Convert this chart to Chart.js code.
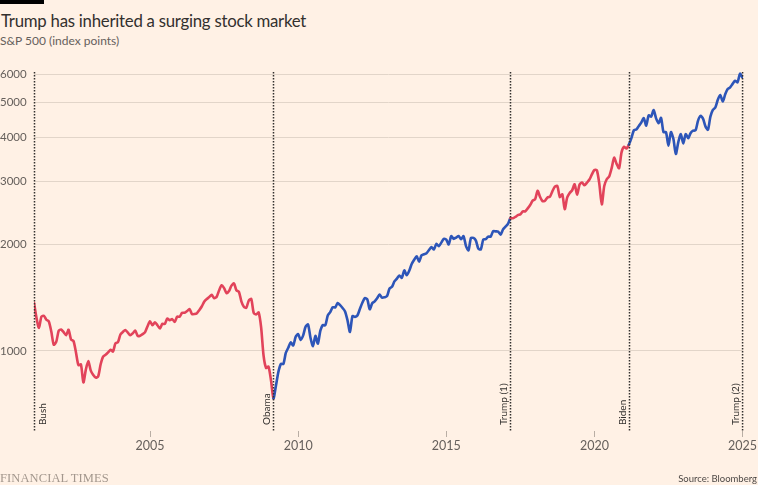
<!DOCTYPE html>
<html>
<head>
<meta charset="utf-8">
<script src="https://cdn.jsdelivr.net/npm/chart.js@4.4.1/dist/chart.umd.min.js"></script>
<style>
  html, body { margin: 0; padding: 0; background: #fff1e5; }
  #wrap { position: relative; width: 758px; height: 485px; background: #fff1e5; overflow: hidden; }
  #bar { position: absolute; left: 0; top: 0; width: 44px; height: 4px; background: #000; }
  #title { position: absolute; left: 1px; top: 10px; font-family: Lato, "Open Sans", sans-serif; font-size: 16.8px; letter-spacing: -0.25px; color: #33302e; white-space: nowrap; }
  #subtitle { position: absolute; left: 0px; top: 33px; font-family: Lato, "Open Sans", sans-serif; font-size: 12px; color: #66605c; white-space: nowrap; }
  #ft { position: absolute; left: 0px; top: 471px; font-family: "Liberation Serif", serif; font-size: 12.5px; color: #a3978d; white-space: nowrap; letter-spacing: 0.1px; }
  #source { position: absolute; right: 1px; top: 473px; font-family: Lato, "Open Sans", sans-serif; font-size: 9.5px; color: #4d4845; white-space: nowrap; }
  canvas { position: absolute; left: 0; top: 0; }
</style>
</head>
<body>
<div id="wrap">
  <div id="bar"></div>
  <div id="title">Trump has inherited a surging stock market</div>
  <div id="subtitle">S&amp;P 500 (index points)</div>
  <canvas id="c" width="758" height="485"></canvas>
  <div id="ft">FINANCIAL TIMES</div>
  <div id="source">Source: Bloomberg</div>
</div>
<script>
// Monthly S&P 500 closes, Jan 2001 .. Dec 2024 (one value per month-end)
const startYear = 2001;
const closes = [
  // 2001
  1366, 1240, 1160, 1249, 1256, 1224, 1211, 1134, 1041, 1060, 1139, 1148,
  // 2002
  1130, 1107, 1147, 1077, 1067, 990, 912, 916, 815, 886, 936, 880,
  // 2003
  856, 841, 848, 917, 964, 975, 990, 1008, 996, 1051, 1058, 1112,
  // 2004
  1131, 1145, 1126, 1107, 1121, 1141, 1102, 1104, 1115, 1130, 1174, 1212,
  // 2005
  1181, 1204, 1181, 1157, 1192, 1191, 1234, 1220, 1229, 1207, 1249, 1248,
  // 2006
  1280, 1281, 1295, 1311, 1270, 1270, 1277, 1304, 1336, 1378, 1401, 1418,
  // 2007
  1438, 1407, 1421, 1482, 1531, 1503, 1455, 1474, 1527, 1549, 1481, 1468,
  // 2008
  1379, 1331, 1323, 1386, 1400, 1280, 1267, 1283, 1166, 969, 896, 903,
  // 2009
  826, 735, 798, 873, 919, 919, 987, 1021, 1057, 1036, 1096, 1115,
  // 2010
  1074, 1104, 1169, 1187, 1089, 1031, 1102, 1049, 1141, 1183, 1181, 1258,
  // 2011
  1286, 1327, 1326, 1364, 1345, 1321, 1292, 1219, 1131, 1253, 1247, 1258,
  // 2012
  1312, 1366, 1408, 1398, 1310, 1362, 1379, 1407, 1441, 1412, 1416, 1426,
  // 2013
  1498, 1515, 1569, 1598, 1631, 1606, 1686, 1633, 1682, 1757, 1806, 1848,
  // 2014
  1783, 1859, 1872, 1884, 1924, 1960, 1931, 2003, 1972, 2018, 2068, 2059,
  // 2015
  1995, 2105, 2068, 2086, 2107, 2063, 2104, 1972, 1920, 2079, 2080, 2044,
  // 2016
  1940, 1932, 2060, 2065, 2097, 2099, 2174, 2171, 2168, 2126, 2199, 2239,
  // 2017
  2279, 2364, 2363, 2384, 2412, 2423, 2470, 2472, 2519, 2575, 2648, 2674,
  // 2018
  2824, 2714, 2641, 2648, 2705, 2718, 2816, 2902, 2914, 2712, 2760, 2507,
  // 2019
  2704, 2784, 2834, 2946, 2752, 2942, 2980, 2926, 2977, 3038, 3141, 3231,
  // 2020
  3226, 2954, 2585, 2912, 3044, 3100, 3271, 3500, 3363, 3270, 3622, 3756,
  // 2021
  3714, 3811, 3973, 4181, 4204, 4298, 4395, 4523, 4308, 4605, 4567, 4766,
  // 2022
  4516, 4374, 4530, 4132, 4132, 3785, 4130, 3955, 3586, 3872, 4080, 3840,
  // 2023
  4077, 3970, 4109, 4169, 4180, 4450, 4589, 4508, 4288, 4194, 4568, 4770,
  // 2024
  4846, 5096, 5254, 5036, 5278, 5460, 5522, 5648, 5762, 5705, 6032, 5882
];

// Presidential terms (start positions) and party colours
const termNames  = ['Bush', 'Obama', 'Trump (1)', 'Biden', 'Trump (2)'];
const termStarts = [2001.083, 2009.16, 2017.16, 2021.16, 2025.02];
const termColors = ['#e2435a', '#2d55b8', '#e2435a', '#2d55b8', '#e2435a'];

const yTickValues = [1000, 2000, 3000, 4000, 5000, 6000];
const xTickValues = [2005, 2010, 2015, 2020, 2025];

const points = closes.map((v, i) => ({ x: startYear + (i + 1) / 12, y: v }));

function colorAt(x) {
  let c = termColors[0];
  for (let i = 0; i < termStarts.length; i++) {
    if (x >= termStarts[i] - 1e-6) c = termColors[i];
  }
  return c;
}

const termLines = {
  id: 'termLines',
  afterDatasetsDraw(chart) {
    const { ctx, chartArea, scales } = chart;
    ctx.save();
    termStarts.forEach((t, i) => {
      let x = Math.round(scales.x.getPixelForValue(t)) + 0.5;
      x = Math.min(Math.max(x, chartArea.left + 0.5), chartArea.right - 0.5);
      ctx.strokeStyle = '#33302e';
      ctx.lineWidth = 1.5;
      ctx.setLineDash([1.5, 1.5]);
      ctx.beginPath();
      ctx.moveTo(x, chartArea.top);
      ctx.lineTo(x, chartArea.bottom);
      ctx.stroke();

      ctx.save();
      ctx.setLineDash([]);
      ctx.fillStyle = '#33302e';
      ctx.font = '10px Lato, "Open Sans", sans-serif';
      ctx.textAlign = 'left';
      if (i === 0) {
        ctx.translate(x + 3, chartArea.bottom - 6);
        ctx.rotate(-Math.PI / 2);
        ctx.textBaseline = 'top';
      } else {
        ctx.translate(x - 4, chartArea.bottom - 6);
        ctx.rotate(-Math.PI / 2);
        ctx.textBaseline = 'alphabetic';
      }
      ctx.fillText(termNames[i], 0, 0);
      ctx.restore();
    });
    ctx.restore();
  }
};

new Chart(document.getElementById('c'), {
  type: 'line',
  data: {
    datasets: [{
      data: points,
      borderWidth: 2.6,
      pointRadius: 0,
      tension: 0.25,
      borderCapStyle: 'round',
      borderJoinStyle: 'round',
      borderColor: termColors[0],
      segment: {
        borderColor: (c) => colorAt(c.p0.parsed.x)
      }
    }]
  },
  options: {
    responsive: false,
    animation: false,
    events: [],
    layout: { padding: { top: 72, left: 0, right: 13, bottom: 24 } },
    plugins: { legend: { display: false }, tooltip: { enabled: false } },
    scales: {
      x: {
        type: 'linear',
        min: 2001.083,
        max: 2025.02,
        afterFit: (s) => { s.height = 30; },
        afterBuildTicks: (s) => { s.ticks = xTickValues.map(v => ({ value: v })); },
        border: { display: false },
        grid: { drawOnChartArea: false, drawTicks: true, tickLength: 6, color: '#b9aea4', lineWidth: 1 },
        ticks: {
          autoSkip: false,
          maxRotation: 0,
          padding: 1,
          color: '#66605c',
          font: { family: 'Lato, "Open Sans", sans-serif', size: 12.5 },
          callback: (v) => String(v)
        }
      },
      y: {
        type: 'logarithmic',
        min: 595,
        max: 6100,
        afterFit: (s) => { s.width = 34; },
        afterBuildTicks: (s) => { s.ticks = yTickValues.map(v => ({ value: v })); },
        border: { display: false },
        grid: { drawTicks: false, color: '#e2d5c9', lineWidth: 1 },
        ticks: {
          crossAlign: 'far',
          padding: 0,
          color: '#66605c',
          font: { family: 'Lato, "Open Sans", sans-serif', size: 11.5 },
          callback: (v) => String(v)
        }
      }
    }
  },
  plugins: [termLines]
});
</script>
</body>
</html>
